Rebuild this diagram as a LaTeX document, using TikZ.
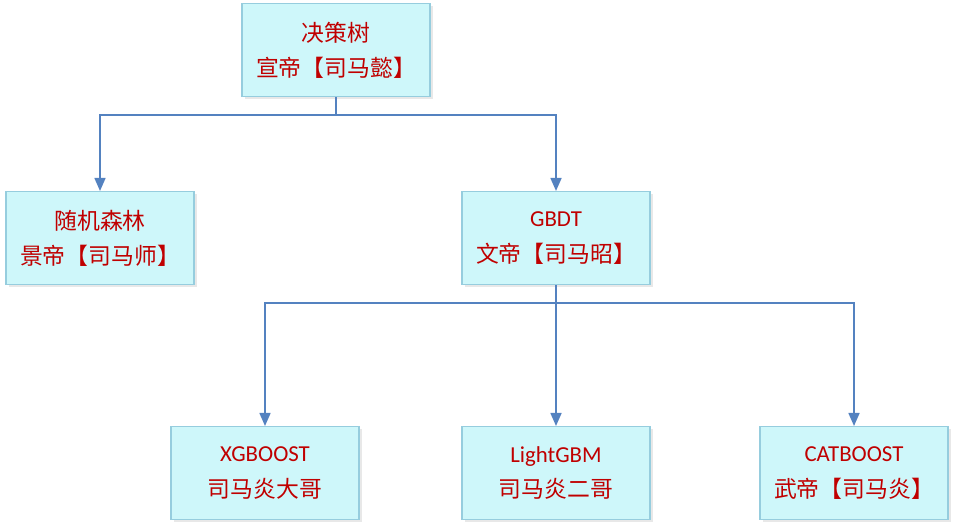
\documentclass[tikz,border=0pt]{standalone}
\usepackage{fontspec}
\setmainfont{Carlito}
\newfontfamily\cjk{Noto Sans CJK SC}
\usetikzlibrary{arrows.meta,shadows}
\definecolor{boxfill}{RGB}{206,247,250}
\definecolor{boxline}{RGB}{150,205,222}
\definecolor{txtred}{RGB}{192,0,0}
\definecolor{linkblue}{RGB}{84,130,192}
\begin{document}
\begin{tikzpicture}[>={Triangle[length=2.6mm,width=2.2mm]},
  every node/.style={rectangle,draw=boxline,fill=boxfill,line width=0.6pt,
    minimum width=3.76cm,minimum height=1.86cm,align=center,text=txtred,
    font=\fontsize{13}{20}\selectfont,
    drop shadow={opacity=0.18,shadow xshift=0.05cm,shadow yshift=-0.05cm}},
  link/.style={->,draw=linkblue,line width=0.9pt}]
 \useasboundingbox (0,0) rectangle (19.12,-10.62);
 \node (tree) at (6.72,-1.0) {\cjk 决策树\\\cjk 宣帝【司马懿】};
 \node (rf) at (2.0,-4.76) {\cjk 随机森林\\\cjk 景帝【司马师】};
 \node (gbdt) at (11.12,-4.76) {GBDT\\\cjk 文帝【司马昭】};
 \node (xgb) at (5.3,-9.46) {XGBOOST\\\cjk 司马炎大哥};
 \node (lgbm) at (11.12,-9.46) {LightGBM\\\cjk 司马炎二哥};
 \node (cat) at (17.08,-9.46) {CATBOOST\\\cjk 武帝【司马炎】};
 \draw[link] (tree.south) -- ++(0,-0.36) -| (rf);
 \draw[link] (tree.south) -- ++(0,-0.36) -| (gbdt);
 \draw[link] (gbdt.south) -- ++(0,-0.36) -| (xgb);
 \draw[link] (gbdt) -- (lgbm);
 \draw[link] (gbdt.south) -- ++(0,-0.36) -| (cat);
\end{tikzpicture}
\end{document}
